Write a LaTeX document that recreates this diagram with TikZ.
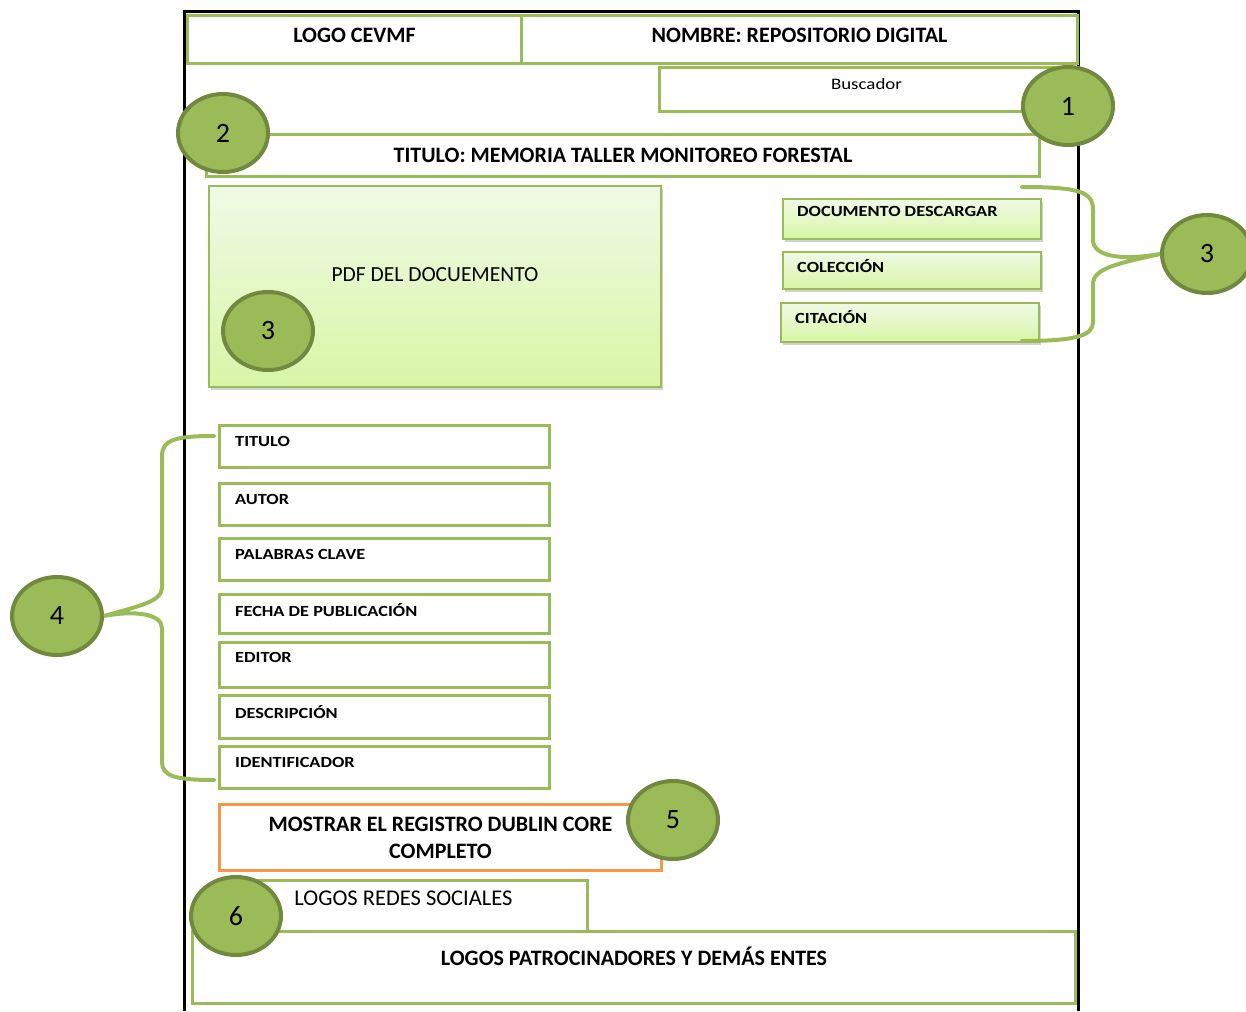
\documentclass[tikz,border=0pt]{standalone}
\usepackage{fontspec}
\setmainfont{Carlito}
\newfontfamily\widefont[FakeStretch=1.18]{Carlito}
\usepackage{tikz}
\usetikzlibrary{shapes,shapes.geometric,positioning,calc,shadows}
\definecolor{boxgreen}{HTML}{9BBB59}
\definecolor{markerfill}{HTML}{9BBB59}
\definecolor{markerborder}{HTML}{71893F}
\definecolor{optlight}{HTML}{F0FAE6}
\definecolor{optdark}{HTML}{D8F6A6}
\definecolor{btnorange}{HTML}{F79646}

\tikzset{
  greenbox/.style={rectangle,draw=boxgreen,line width=3pt,inner sep=0pt,anchor=north west},
  fieldbox/.style={greenbox,minimum width=330pt,minimum height=42pt},
  fieldtext/.style={anchor=north west,inner sep=0pt,font=\widefont\bfseries\fontsize{15.5}{17}\selectfont},
  optbox/.style={greenbox,line width=2pt,top color=optlight,bottom color=optdark,
    drop shadow={shadow xshift=2pt,shadow yshift=-3pt,fill=black!35}},
  marker/.style={ellipse,draw=markerborder,fill=markerfill,line width=4pt,inner sep=0pt,
    minimum width=90pt,minimum height=78pt,font=\fontsize{28}{30}\selectfont},
  bracepath/.style={draw=boxgreen,line width=4pt,line cap=round},
}

\begin{document}
\begin{tikzpicture}[x=1pt,y=-1pt]
  \useasboundingbox (0,0) rectangle (1246,1011);
  % page frame
  \draw[line width=3pt] (184,1011) -- (184,12) -- (1078,12) -- (1078,1011);

  % header
  \node[greenbox,minimum width=334pt,minimum height=48pt,text depth=8pt,font=\bfseries\fontsize{22}{24}\selectfont] (logo) at (186,14) {LOGO CEVMF};
  \node[greenbox,minimum width=556pt,minimum height=48pt,text depth=8pt,font=\bfseries\fontsize{22}{24}\selectfont] (nombre) at (520,14) {NOMBRE: REPOSITORIO DIGITAL};
  \node[greenbox,minimum width=414pt,minimum height=44pt] (buscador) at (658,66) {};
  \node[font=\widefont\fontsize{16}{18}\selectfont] (buscadortxt) at ($(buscador.north)+(0,18)$) {Buscador};
  \node[greenbox,minimum width=833pt,minimum height=42pt,font=\bfseries\fontsize{22}{24}\selectfont] (titulo) at (205,133) {TITULO: MEMORIA TALLER MONITOREO FORESTAL};

  % document and options
  \node[optbox,minimum width=452pt,minimum height=201pt] (pdf) at (208,185) {};
  \node[font=\fontsize{21.5}{23}\selectfont] (pdftxt) at ($(pdf.center)+(0,-12)$) {PDF DEL DOCUEMENTO};
  \node[optbox,minimum width=258pt,minimum height=40pt] (descargar) at (782,198) {};
  \node[optbox,minimum width=258pt,minimum height=37pt] (coleccion) at (782,251) {};
  \node[optbox,minimum width=258pt,minimum height=39pt] (citacion) at (780,302) {};
  \node[fieldtext] at ($(descargar.north west)+(15,8)$) {DOCUMENTO DESCARGAR};
  \node[fieldtext] at ($(coleccion.north west)+(15,8)$) {COLECCIÓN};
  \node[fieldtext] at ($(citacion.north west)+(15,8)$) {CITACIÓN};

  % metadata fields
  \node[fieldbox] (ftitulo) at (218,424) {};
  \node[fieldbox] (fautor) at (218,482) {};
  \node[fieldbox] (fclave) at (218,537) {};
  \node[fieldbox,minimum height=39pt] (ffecha) at (218,593) {};
  \node[fieldbox,minimum height=45pt] (feditor) at (218,641) {};
  \node[fieldbox,minimum height=43pt] (fdesc) at (218,694) {};
  \node[fieldbox] (fident) at (218,745) {};
  \node[fieldtext] at ($(ftitulo.north west)+(17,12)$) {TITULO};
  \node[fieldtext] at ($(fautor.north west)+(17,12)$) {AUTOR};
  \node[fieldtext] at ($(fclave.north west)+(17,12)$) {PALABRAS CLAVE};
  \node[fieldtext] at ($(ffecha.north west)+(17,10)$) {FECHA DE PUBLICACIÓN};
  \node[fieldtext] at ($(feditor.north west)+(17,11)$) {EDITOR};
  \node[fieldtext] at ($(fdesc.north west)+(17,11)$) {DESCRIPCIÓN};
  \node[fieldtext] at ($(fident.north west)+(17,12)$) {IDENTIFICADOR};

  % footer
  \node[greenbox,draw=btnorange,minimum width=442pt,minimum height=66pt,align=center,font=\bfseries\fontsize{22}{27}\selectfont] (mostrar) at (218,803) {MOSTRAR EL REGISTRO DUBLIN CORE\\COMPLETO};
  \node[greenbox,minimum width=336pt,minimum height=51pt] (redes) at (250,879) {};
  \node[font=\fontsize{22.5}{24}\selectfont] (redestxt) at ($(redes.north)+(-16,19)$) {LOGOS REDES SOCIALES};
  \node[greenbox,minimum width=883pt,minimum height=72pt] (patrocinio) at (191,930) {};
  \node[font=\bfseries\fontsize{22}{24}\selectfont] (patrociniotxt) at ($(patrocinio.north)+(0,26)$) {LOGOS PATROCINADORES Y DEMÁS ENTES};

  % brace end points
  \coordinate (rbtop) at (1022,187);
  \coordinate (rbbot) at (1022,341);
  \coordinate (lbtop) at (214,436);
  \coordinate (lbbot) at (214,780);

  % numbered markers
  \node[marker] (m1) at (1068,106) {1};
  \node[marker] (m2) at (223,133) {2};
  \node[marker] (m3a) at (268,331) {3};
  \node[marker] (m3b) at (1207,254) {3};
  \node[marker] (m4) at (57,616) {4};
  \node[marker] (m5) at (673,820) {5};
  \node[marker] (m6) at (236,916) {6};

  % braces
  \draw[bracepath] (rbtop) .. controls (1080,187) and (1093,192) .. (1093,210) -- (1093,240)
    .. controls (1093,256) and (1120,261) .. (m3b.west)
    .. controls (1120,263) and (1093,268) .. (1093,284) -- (1093,322)
    .. controls (1093,336) and (1075,341) .. (rbbot);
  \draw[bracepath] (lbtop) .. controls (175,436) and (162,440) .. (162,456) -- (162,588)
    .. controls (162,602) and (135,607) .. (m4.east)
    .. controls (135,610) and (162,614) .. (162,628) -- (162,762)
    .. controls (162,776) and (175,780) .. (lbbot);
\end{tikzpicture}
\end{document}
